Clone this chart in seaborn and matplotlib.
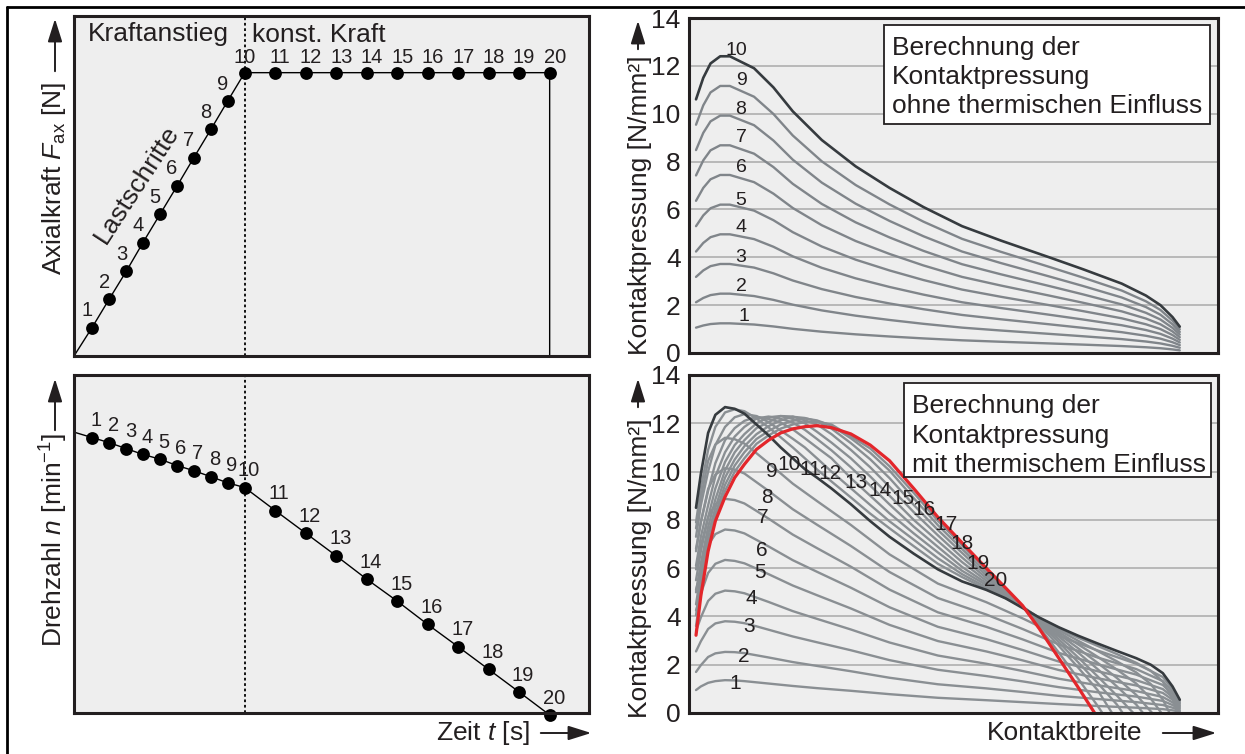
import matplotlib
matplotlib.use("Agg")
import matplotlib.pyplot as plt
from matplotlib.patches import Rectangle, FancyArrowPatch
from matplotlib.lines import Line2D
import numpy as np
import pandas as pd
import seaborn as sns

W, H = 1245, 754

# ---------------------------------------------------------------- data
step_labels = [str(i) for i in range(1, 21)]
t_steps = [0.59, 1.15, 1.72, 2.26, 2.82, 3.38, 3.93, 4.49, 5.04, 5.6,
           6.6, 7.6, 8.6, 9.6, 10.6, 11.6, 12.6, 13.6, 14.6, 15.6]
t_ramp_end = 5.6
force_steps = [1, 2, 3, 4, 5, 6, 7, 8, 9, 10,
               10, 10, 10, 10, 10, 10, 10, 10, 10, 10]
n_start = 831
n_steps = [815, 800, 782, 765, 751, 732, 717, 699, 681, 667,
           599, 532, 465, 396, 331, 262, 196, 129, 62, -6]

# contact pressure without thermal influence (load steps 1..10)
s_top = [0, 1.5, 3, 5, 7, 9, 12, 16, 20, 26, 33, 40, 47, 55, 63, 73, 80, 88, 93, 96, 98.5, 100]
p_top = [
    [1.06, 1.15, 1.21, 1.24, 1.24, 1.22, 1.19, 1.11, 1.01, 0.89, 0.78, 0.69, 0.61, 0.53, 0.47, 0.40, 0.35, 0.29, 0.24, 0.20, 0.15, 0.11],
    [2.12, 2.30, 2.42, 2.48, 2.48, 2.44, 2.38, 2.22, 2.02, 1.78, 1.56, 1.38, 1.22, 1.06, 0.94, 0.80, 0.70, 0.58, 0.48, 0.40, 0.30, 0.22],
    [3.18, 3.45, 3.63, 3.72, 3.72, 3.66, 3.57, 3.33, 3.03, 2.67, 2.34, 2.07, 1.83, 1.59, 1.41, 1.20, 1.05, 0.87, 0.72, 0.60, 0.45, 0.33],
    [4.24, 4.60, 4.84, 4.96, 4.96, 4.88, 4.76, 4.44, 4.04, 3.56, 3.12, 2.76, 2.44, 2.12, 1.88, 1.60, 1.40, 1.16, 0.96, 0.80, 0.60, 0.44],
    [5.30, 5.75, 6.05, 6.20, 6.20, 6.10, 5.95, 5.55, 5.05, 4.45, 3.90, 3.45, 3.05, 2.65, 2.35, 2.00, 1.75, 1.45, 1.20, 1.00, 0.75, 0.55],
    [6.36, 6.90, 7.26, 7.44, 7.44, 7.32, 7.14, 6.66, 6.06, 5.34, 4.68, 4.14, 3.66, 3.18, 2.82, 2.40, 2.10, 1.74, 1.44, 1.20, 0.90, 0.66],
    [7.42, 8.05, 8.47, 8.68, 8.68, 8.54, 8.33, 7.77, 7.07, 6.23, 5.46, 4.83, 4.27, 3.71, 3.29, 2.80, 2.45, 2.03, 1.68, 1.40, 1.05, 0.77],
    [8.48, 9.20, 9.68, 9.92, 9.92, 9.76, 9.52, 8.88, 8.08, 7.12, 6.24, 5.52, 4.88, 4.24, 3.76, 3.20, 2.80, 2.32, 1.92, 1.60, 1.20, 0.88],
    [9.54, 10.35, 10.89, 11.16, 11.16, 10.98, 10.71, 9.99, 9.09, 8.01, 7.02, 6.21, 5.49, 4.77, 4.23, 3.60, 3.15, 2.61, 2.16, 1.80, 1.35, 0.99],
    [10.6, 11.5, 12.1, 12.4, 12.4, 12.2, 11.9, 11.1, 10.1, 8.9, 7.8, 6.9, 6.1, 5.3, 4.7, 4.0, 3.5, 2.9, 2.4, 2.0, 1.5, 1.1],
]

# contact pressure with thermal influence, load steps 1..9
s_bot_a = [0, 1, 2.5, 4, 6, 8, 10, 12.5, 15, 20, 25, 32, 40, 50, 60, 67.5, 75, 83, 91, 96.5, 98.5, 100]
p_bot_a = [
    [0.95, 1.10, 1.25, 1.32, 1.36, 1.35, 1.32, 1.27, 1.22, 1.12, 1.03, 0.92, 0.78, 0.63, 0.53, 0.45, 0.37, 0.29, 0.22, 0.16, 0.11, 0.06],
    [1.70, 1.98, 2.32, 2.47, 2.53, 2.52, 2.48, 2.39, 2.30, 2.11, 1.95, 1.73, 1.46, 1.19, 1.02, 0.87, 0.71, 0.58, 0.45, 0.33, 0.22, 0.11],
    [2.55, 2.97, 3.48, 3.71, 3.80, 3.78, 3.72, 3.59, 3.45, 3.17, 2.93, 2.60, 2.19, 1.79, 1.53, 1.31, 1.07, 0.86, 0.68, 0.50, 0.33, 0.17],
    [3.40, 3.96, 4.64, 4.94, 5.07, 5.04, 4.96, 4.78, 4.60, 4.22, 3.90, 3.46, 2.92, 2.38, 2.04, 1.74, 1.42, 1.15, 0.91, 0.66, 0.44, 0.22],
    [4.25, 4.95, 5.80, 6.18, 6.34, 6.30, 6.20, 5.98, 5.75, 5.28, 4.88, 4.33, 3.65, 2.98, 2.55, 2.18, 1.78, 1.44, 1.14, 0.83, 0.55, 0.28],
    [5.10, 5.94, 6.96, 7.41, 7.60, 7.56, 7.44, 7.17, 6.90, 6.33, 5.85, 5.19, 4.38, 3.57, 3.06, 2.61, 2.13, 1.73, 1.36, 0.99, 0.66, 0.33],
    [5.95, 6.93, 8.12, 8.65, 8.87, 8.82, 8.68, 8.37, 8.05, 7.39, 6.83, 6.06, 5.11, 4.17, 3.57, 3.05, 2.49, 2.02, 1.59, 1.16, 0.77, 0.39],
    [6.80, 7.92, 9.28, 9.88, 10.14, 10.08, 9.92, 9.56, 9.20, 8.44, 7.80, 6.92, 5.84, 4.76, 4.08, 3.48, 2.84, 2.30, 1.82, 1.32, 0.88, 0.44],
    [7.65, 8.91, 10.44, 11.12, 11.40, 11.34, 11.16, 10.76, 10.35, 9.50, 8.78, 7.79, 6.57, 5.36, 4.59, 3.92, 3.20, 2.59, 2.04, 1.49, 0.99, 0.50],
]

# contact pressure with thermal influence, load steps 10..20 (None = beyond end of contact)
s_bot_b = [0, 1, 2.5, 4, 6, 8, 10, 12.5, 15, 17.5, 20, 22.5, 25, 28, 32, 36, 40, 45, 50,
           55, 60, 64, 67.5, 71, 75, 79, 83, 87, 91, 94, 96.5, 98.5, 100]
N = None
p_bot_b = [
    [8.5, 9.9, 11.6, 12.35, 12.67, 12.6, 12.4, 11.95, 11.5, 11.0, 10.55, 10.1, 9.75, 9.3, 8.65, 7.95, 7.3, 6.6, 5.95,
     5.45, 5.1, 4.75, 4.35, 3.95, 3.55, 3.2, 2.88, 2.57, 2.27, 2.0, 1.65, 1.1, 0.55],
    [7.9, 9.3, 10.9, 11.85, 12.45, 12.58, 12.5, 12.2, 11.83, 11.42, 11.0, 10.55, 10.09, 9.59, 8.93, 8.26, 7.65, 6.91, 6.18,
     5.63, 5.14, 4.75, 4.4, 3.93, 3.5, 3.12, 2.78, 2.44, 2.08, 1.75, 1.3, 0.6, N],
    [7.3, 8.6, 10.0, 11.1, 11.85, 12.25, 12.38, 12.3, 12.05, 11.7, 11.36, 11.0, 10.55, 10.0, 9.31, 8.62, 7.94, 7.18, 6.41,
     5.75, 5.21, 4.78, 4.4, 3.91, 3.43, 2.99, 2.57, 2.14, 1.68, 1.2, 0.55, N, N],
    [6.7, 7.9, 9.2, 10.35, 11.3, 11.8, 12.1, 12.27, 12.18, 12.03, 11.75, 11.38, 11.0, 10.55, 9.73, 9.0, 8.27, 7.44, 6.65,
     5.89, 5.3, 4.82, 4.4, 3.89, 3.35, 2.84, 2.33, 1.8, 1.22, 0.6, N, N, N],
    [6.1, 7.3, 8.6, 9.8, 10.8, 11.45, 11.85, 12.2, 12.28, 12.18, 12.03, 11.73, 11.35, 10.88, 10.18, 9.42, 8.64, 7.72, 6.88,
     6.05, 5.38, 4.86, 4.4, 3.86, 3.27, 2.68, 2.08, 1.45, 0.75, N, N, N, N],
    [5.5, 6.7, 8.1, 9.3, 10.4, 11.1, 11.55, 12.0, 12.25, 12.3, 12.18, 12.0, 11.65, 11.2, 10.55, 9.8, 9.0, 8.0, 7.12,
     6.25, 5.48, 4.9, 4.4, 3.82, 3.17, 2.5, 1.82, 1.1, 0.35, N, N, N, N],
    [5.0, 6.2, 7.7, 8.85, 10.05, 10.8, 11.3, 11.8, 12.05, 12.3, 12.28, 12.12, 11.95, 11.55, 10.9, 10.18, 9.37, 8.32, 7.36,
     6.44, 5.59, 4.96, 4.4, 3.77, 3.05, 2.3, 1.52, 0.72, N, N, N, N, N],
    [4.5, 5.8, 7.4, 8.5, 9.75, 10.5, 11.05, 11.55, 11.88, 12.12, 12.27, 12.22, 12.08, 11.78, 11.18, 10.51, 9.73, 8.62, 7.58,
     6.63, 5.7, 5.0, 4.4, 3.72, 2.93, 2.1, 1.25, 0.35, N, N, N, N, N],
    [4.05, 5.4, 7.1, 8.25, 9.45, 10.25, 10.8, 11.35, 11.68, 11.95, 12.1, 12.2, 12.12, 11.9, 11.38, 10.78, 10.04, 8.9, 7.78,
     6.79, 5.81, 5.06, 4.4, 3.65, 2.78, 1.88, 0.95, N, N, N, N, N, N],
    [3.6, 5.05, 6.9, 8.1, 9.2, 10.0, 10.55, 11.15, 11.5, 11.78, 11.95, 12.05, 12.06, 11.95, 11.46, 10.96, 10.22, 9.12, 7.96,
     6.94, 5.92, 5.12, 4.42, 3.55, 2.5, 1.42, 0.3, N, N, N, N, N, N],
    [3.22, 4.85, 6.7, 7.95, 8.95, 9.75, 10.3, 10.92, 11.3, 11.6, 11.77, 11.86, 11.9, 11.82, 11.56, 11.1, 10.45, 9.3, 8.11,
     7.05, 6.0, 5.18, 4.45, 3.48, 2.27, 1.06, N, N, N, N, N, N, N],
]
# contact-width position where steps 11..20 reach zero pressure
s_end_b = [99.5, 97.9, 96.2, 94.3, 92.4, 90.4, 88.2, 86.0, 84.0, 82.4]

yticks_p = [0, 2, 4, 6, 8, 10, 12, 14]

# ---------------------------------------------------------------- style
sns.set_theme(style="white")
plt.rcParams["font.family"] = ["Liberation Sans", "DejaVu Sans"]
plt.rcParams["mathtext.fontset"] = "custom"
plt.rcParams["mathtext.rm"] = "Liberation Sans"
plt.rcParams["mathtext.it"] = "Liberation Sans:italic"
plt.rcParams["mathtext.bf"] = "Liberation Sans:bold"

BG = "#eeeeee"
SP = "#231f20"
GRAY = "#80858a"
DARK = "#363b3f"
RED = "#e3262b"
FS = 19
FS_PT = 14.5

fig = plt.figure(figsize=(W / 100, H / 100), dpi=100)
fig.patch.set_facecolor("white")


def rect(x0, y0, x1, y1):
    return [x0 / W, 1 - y1 / H, (x1 - x0) / W, (y1 - y0) / H]


def fp(x, y):
    return (x / W, 1 - y / H)


ax_f = fig.add_axes(rect(74, 16, 589, 356))
ax_n = fig.add_axes(rect(74, 375, 589, 713))
ax_t = fig.add_axes(rect(689, 18, 1218, 353))
ax_b = fig.add_axes(rect(689, 375, 1218, 713))

for ax in (ax_f, ax_n, ax_t, ax_b):
    ax.set_facecolor(BG)
    for sp in ax.spines.values():
        sp.set_visible(True)
        sp.set_color(SP)
        sp.set_linewidth(2.2)
        sp.set_zorder(10)

# ---------------------------------------------------------------- top-left: force
df_f = pd.DataFrame({"t": [0] + t_steps + [t_steps[-1]],
                     "F": [0] + force_steps + [0]})
sns.lineplot(data=df_f, x="t", y="F", sort=False, estimator=None,
             color="black", lw=1.0, ax=ax_f, legend=False)
sns.scatterplot(x=t_steps, y=force_steps, s=85, color="black", edgecolor="black",
                linewidth=0, ax=ax_f, zorder=5, clip_on=False, legend=False)
ax_f.axvline(t_ramp_end, color="black", lw=1.3, ls=(0, (1.5, 1.5)))
for i, (t, F, lab) in enumerate(zip(t_steps, force_steps, step_labels)):
    if i < 9:
        off = (-5, 17)
    elif i == 9:
        off = (0, 15)
    else:
        off = (5, 15)
    ax_f.annotate(lab, (t, F), xytext=off, textcoords="offset pixels",
                  ha="center", va="center", fontsize=FS_PT, color="#231f20",
                  annotation_clip=False)
ax_f.set_xlim(0, 16.89)
ax_f.set_ylim(0, 12)
ax_f.set_xticks([])
ax_f.set_yticks([])
ax_f.set_xlabel("")
ax_f.set_ylabel("")
ax_f.text(0.027, 0.925, "Kraftanstieg", transform=ax_f.transAxes, fontsize=FS,
          ha="left", va="baseline", color="#231f20")
ax_f.text(0.346, 0.925, "konst. Kraft", transform=ax_f.transAxes, fontsize=FS,
          ha="left", va="baseline", color="#231f20")
ax_f.text(0.122, 0.505, "Lastschritte", transform=ax_f.transAxes, fontsize=FS,
          ha="center", va="center", rotation=57, rotation_mode="anchor",
          color="#231f20")

# ---------------------------------------------------------------- bottom-left: speed
df_n = pd.DataFrame({"t": [0] + t_steps, "n": [n_start] + n_steps})
sns.lineplot(data=df_n, x="t", y="n", sort=False, estimator=None,
             color="black", lw=1.0, ax=ax_n, legend=False)
sns.scatterplot(x=t_steps, y=n_steps, s=85, color="black", edgecolor="black",
                linewidth=0, ax=ax_n, zorder=5, clip_on=False, legend=False)
ax_n.axvline(t_ramp_end, color="black", lw=1.3, ls=(0, (1.5, 1.5)))
for t, n, lab in zip(t_steps, n_steps, step_labels):
    ax_n.annotate(lab, (t, n), xytext=(4, 17), textcoords="offset pixels",
                  ha="center", va="center", fontsize=FS_PT, color="#231f20",
                  annotation_clip=False)
ax_n.set_xlim(0, 16.89)
ax_n.set_ylim(0, 1000)
ax_n.set_xticks([])
ax_n.set_yticks([])
ax_n.set_xlabel("")
ax_n.set_ylabel("")


# ---------------------------------------------------------------- right panels common
def setup_right(ax):
    ax.set_xlim(-1.45, 107.9)
    ax.set_ylim(0, 14)
    ax.set_xticks([])
    ax.set_yticks(yticks_p)
    ax.set_yticklabels([str(v) for v in yticks_p])
    ax.tick_params(axis="y", length=0, pad=6, labelsize=FS, labelcolor="#231f20")
    ax.yaxis.grid(True, color="#b4b4b4", lw=1.3)
    ax.xaxis.grid(False)
    ax.set_axisbelow(True)
    ax.set_xlabel("")
    ax.set_ylabel("")


# top-right
rows = []
for k, vals in enumerate(p_top, start=1):
    for s, v in zip(s_top, vals):
        rows.append((k, s, v))
df_top = pd.DataFrame(rows, columns=["step", "s", "p"])
sns.lineplot(data=df_top[df_top.step < 10], x="s", y="p", units="step",
             estimator=None, sort=False, color=GRAY, lw=1.7, ax=ax_t, legend=False)
sns.lineplot(data=df_top[df_top.step == 10], x="s", y="p", units="step",
             estimator=None, sort=False, color=DARK, lw=1.9, ax=ax_t, legend=False)
setup_right(ax_t)
top_label_pos = [(9.9, 1.51), (9.3, 2.76), (9.3, 4.01), (9.3, 5.26), (9.3, 6.375),
                 (9.3, 7.76), (9.3, 9.01), (9.3, 10.17), (9.3, 11.375), (8.4, 12.65)]
for k, (x, y) in enumerate(top_label_pos, start=1):
    ax_t.text(x, y, str(k), fontsize=14, ha="center", va="center",
              color="#231f20", zorder=6)

# bottom-right
rows = []
for k, vals in enumerate(p_bot_a, start=1):
    for s, v in zip(s_bot_a, vals):
        rows.append((k, s, v))
for j, vals in enumerate(p_bot_b):
    k = 10 + j
    for s, v in zip(s_bot_b, vals):
        if v is not None:
            rows.append((k, s, v))
    if k > 10:
        rows.append((k, s_end_b[j - 1], 0.0))
df_bot = pd.DataFrame(rows, columns=["step", "s", "p"])
grey_steps = df_bot.step.isin(list(range(1, 10)) + list(range(11, 20)))
sns.lineplot(data=df_bot[grey_steps], x="s", y="p", units="step",
             estimator=None, sort=False, color="#8a8f93", lw=1.7, ax=ax_b, legend=False)
sns.lineplot(data=df_bot[df_bot.step == 10], x="s", y="p", units="step",
             estimator=None, sort=False, color=DARK, lw=1.9, ax=ax_b, legend=False)
sns.lineplot(data=df_bot[df_bot.step == 20], x="s", y="p", units="step",
             estimator=None, sort=False, color=RED, lw=2.3, ax=ax_b, legend=False)
setup_right(ax_b)
bot_label_pos = [(8.2, 1.24), (9.8, 2.36), (11.0, 3.57), (11.5, 4.75), (13.3, 5.8),
                 (13.7, 6.74), (13.7, 8.08), (14.7, 8.94), (15.6, 10.0), (19.3, 10.28),
                 (23.6, 10.07), (27.7, 9.9), (33.1, 9.56), (38.1, 9.21), (42.8, 8.87),
                 (47.2, 8.42), (51.7, 7.8), (55.0, 7.01), (58.3, 6.21), (62.0, 5.47)]
for k, (x, y) in enumerate(bot_label_pos, start=1):
    ax_b.text(x, y, str(k), fontsize=15, ha="center", va="center",
              color="#231f20", zorder=6)


# annotation boxes
def note(ax, x0, x1, y0, y1, tx, ys, lines):
    ax.add_patch(Rectangle((x0, y0), x1 - x0, y1 - y0, transform=ax.transAxes,
                           facecolor="white", edgecolor="#231f20", lw=1.3, zorder=7))
    for y, s in zip(ys, lines):
        ax.text(tx, y, s, transform=ax.transAxes, fontsize=FS, ha="left",
                va="baseline", color="#231f20", zorder=8)


note(ax_t, 0.369, 0.985, 0.684, 0.979, 0.384, [0.890, 0.803, 0.716],
     ["Berechnung der", "Kontaktpressung", "ohne thermischen Einfluss"])
note(ax_b, 0.406, 0.987, 0.698, 0.976, 0.4216, [0.888, 0.800, 0.714],
     ["Berechnung der", "Kontaktpressung", "mit thermischem Einfluss"])


# ---------------------------------------------------------------- axis titles + arrows
def arrow(p0, p1):
    fig.add_artist(FancyArrowPatch(fp(*p0), fp(*p1), transform=fig.transFigure,
                                   arrowstyle="-|>,head_length=0.7,head_width=0.22",
                                   mutation_scale=20, lw=1.4, color="#231f20"))


fig.text(*fp(54, 178.5), r"Axialkraft $F_{\mathrm{ax}}$ [N]", rotation=90,
         ha="center", va="center", fontsize=FS, color="#231f20")
arrow((55, 74), (55, 16))
fig.text(*fp(54, 539.5), r"Drehzahl $n$ [min$^{\mathregular{-1}}$]", rotation=90,
         ha="center", va="center", fontsize=FS, color="#231f20")
arrow((55, 433), (55, 376))
fig.text(*fp(639.5, 205), "Kontaktpressung [N/mm²]", rotation=90,
         ha="center", va="center", fontsize=FS, color="#231f20")
arrow((638, 52), (638, 18))
fig.text(*fp(639.5, 568), "Kontaktpressung [N/mm²]", rotation=90,
         ha="center", va="center", fontsize=FS, color="#231f20")
arrow((638, 410), (638, 376))
fig.text(*fp(530, 740), r"Zeit $t$ [s]", ha="right", va="baseline",
         fontsize=FS, color="#231f20")
arrow((538, 733), (594, 733))
fig.text(*fp(1142, 739.5), "Kontaktbreite", ha="right", va="baseline",
         fontsize=FS, color="#231f20")
arrow((1160, 733), (1219, 733))

# outer frame
fig.add_artist(Line2D([7 / W, 7 / W], [0, 1 - 7 / H], transform=fig.transFigure,
                      color="black", lw=2))
fig.add_artist(Line2D([7 / W, 1], [1 - 7 / H, 1 - 7 / H], transform=fig.transFigure,
                      color="black", lw=2))

fig.savefig("out.png", dpi=100, facecolor="white")
